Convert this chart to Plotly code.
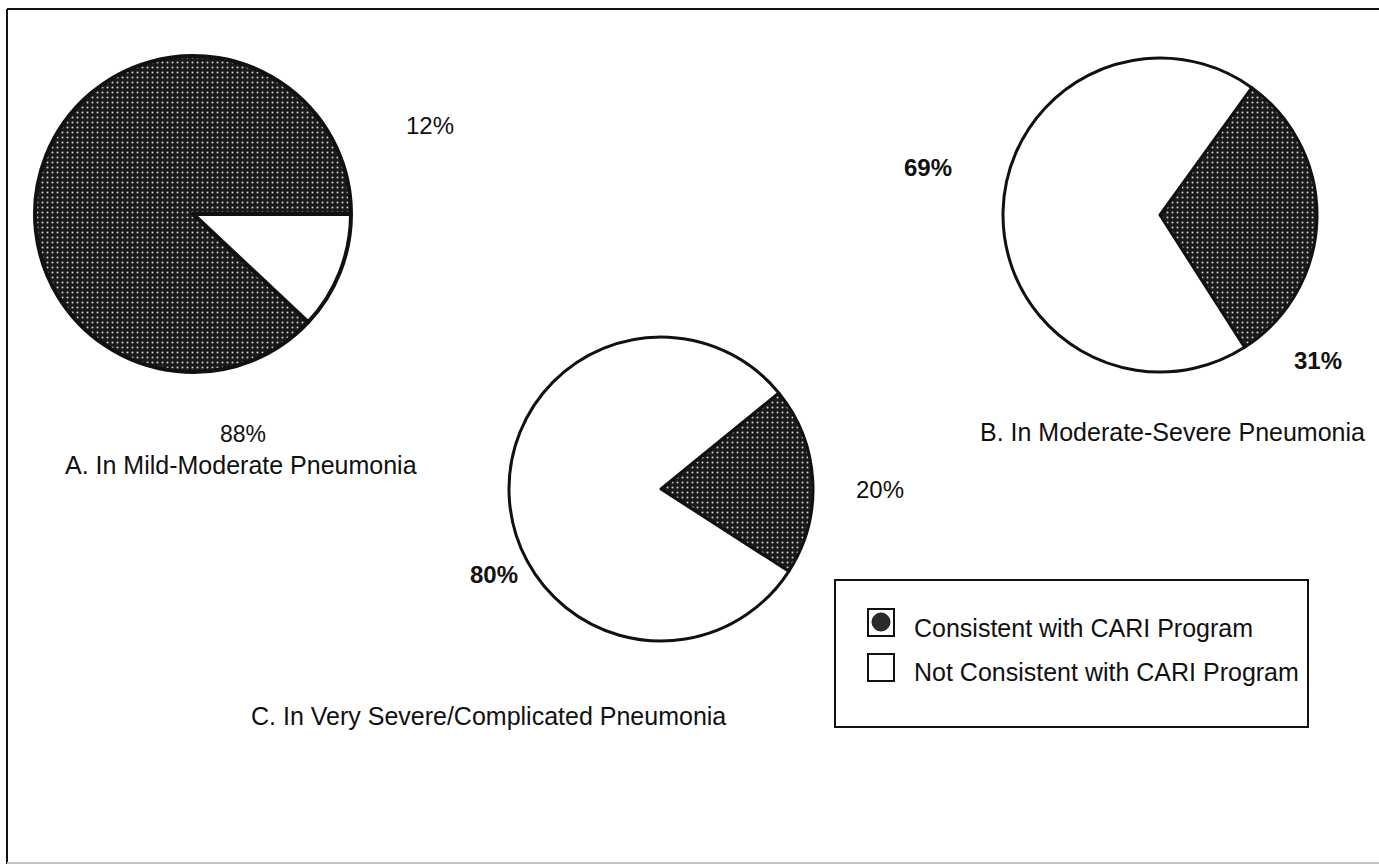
import plotly.graph_objects as go

# ---- data ----
labels = ["Consistent with CARI Program", "Not Consistent with CARI Program"]
mild_moderate = [88, 12]
moderate_severe = [31, 69]
very_severe = [20, 80]
titles = ["A. In Mild-Moderate Pneumonia",
          "B. In Moderate-Severe Pneumonia",
          "C. In Very Severe/Complicated Pneumonia"]

W, H = 1379, 866
FONT = "Liberation Sans, Arial, Helvetica, sans-serif"
INK = "#111111"


def px_x(x):
    return x / W


def px_y(y):
    return 1 - y / H


def dom(cx, cy, r):
    return dict(x=[px_x(cx - r), px_x(cx + r)], y=[px_y(cy + r), px_y(cy - r)])


DARK = "#1a1a1a"
slice_colors = [DARK, "#ffffff"]
pattern = dict(shape=[".", ""], bgcolor=[DARK, "#ffffff"],
               fgcolor=["#d0d0d0", "#ffffff"], size=5, solidity=0.13)

fig = go.Figure()


def add_pie(values, cx, cy, r, rot, lw):
    fig.add_trace(go.Pie(
        labels=labels, values=values, sort=False, direction="clockwise",
        rotation=rot, textinfo="none", hoverinfo="label+percent",
        marker=dict(colors=slice_colors, line=dict(color=INK, width=lw),
                    pattern=pattern),
        domain=dom(cx, cy, r), showlegend=False,
    ))


add_pie(mild_moderate, 193, 214, 158, 133.2, 4)
add_pie(moderate_severe, 1160, 215, 157, 35.8, 3)
add_pie(very_severe, 661, 489, 152, 50.8, 3)

annotations = []


def txt(s, x, y, size=24, bold=False, xanchor="center"):
    annotations.append(dict(
        text=f"<b>{s}</b>" if bold else s, x=px_x(x), y=px_y(y), xref="paper", yref="paper",
        showarrow=False, xanchor=xanchor, yanchor="middle", borderpad=0,
        font=dict(family=FONT, size=size, color=INK)))


def pct(v):
    return f"{v}%"


# percentage labels
txt(pct(mild_moderate[1]), 430, 125)
txt(pct(mild_moderate[0]), 243, 434, size=23)
txt(pct(moderate_severe[1]), 928, 167, bold=True)
txt(pct(moderate_severe[0]), 1318, 360, bold=True)
txt(pct(very_severe[0]), 880, 489)
txt(pct(very_severe[1]), 494, 574, bold=True)

# captions
txt(titles[0], 241, 465, size=25)
txt(titles[1], 1172, 432, size=25)
txt(titles[2], 488, 716, size=25)

# legend entries (text)
txt(labels[0], 913, 628, size=25, xanchor="left")
txt(labels[1], 913, 672, size=25, xanchor="left")

shapes = [
    # outer frame
    dict(type="line", xref="paper", yref="paper", x0=px_x(7), x1=px_x(1379), y0=px_y(9), y1=px_y(9),
         line=dict(color=INK, width=2)),
    dict(type="line", xref="paper", yref="paper", x0=px_x(7), x1=px_x(7), y0=px_y(9), y1=px_y(864),
         line=dict(color=INK, width=2)),
    dict(type="line", xref="paper", yref="paper", x0=px_x(7), x1=px_x(1379), y0=px_y(863), y1=px_y(863),
         line=dict(color="#c4c4c4", width=2)),
    # legend box
    dict(type="rect", xref="paper", yref="paper", x0=px_x(835), x1=px_x(1308), y0=px_y(727), y1=px_y(580),
         line=dict(color=INK, width=2), fillcolor="rgba(0,0,0,0)"),
    # legend key: consistent
    dict(type="rect", xref="paper", yref="paper", x0=px_x(868), x1=px_x(894), y0=px_y(636), y1=px_y(609),
         line=dict(color=INK, width=2), fillcolor="white"),
    dict(type="circle", xref="paper", yref="paper", x0=px_x(872), x1=px_x(890), y0=px_y(631), y1=px_y(613),
         line=dict(color=DARK, width=1), fillcolor="#2a2a2a"),
    # legend key: not consistent
    dict(type="rect", xref="paper", yref="paper", x0=px_x(868), x1=px_x(894), y0=px_y(681), y1=px_y(654),
         line=dict(color=INK, width=2), fillcolor="white"),
]

fig.update_layout(
    width=W, height=H, margin=dict(l=0, r=0, t=0, b=0),
    paper_bgcolor="white", plot_bgcolor="white",
    annotations=annotations, shapes=shapes, showlegend=False,
)

fig.write_html("out.html")
